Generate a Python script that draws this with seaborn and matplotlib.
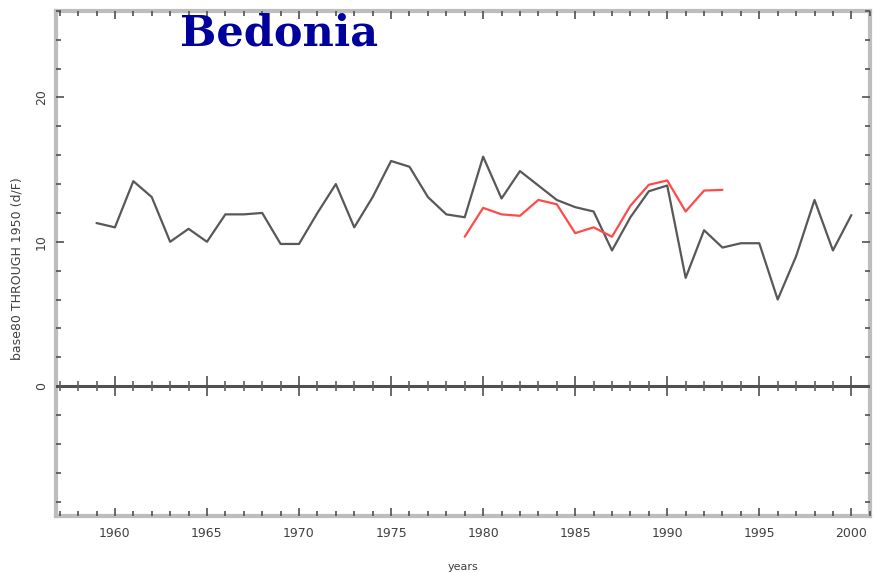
import matplotlib
matplotlib.use("Agg")
import matplotlib.pyplot as plt
import seaborn as sns
import pandas as pd
import numpy as np
from matplotlib.ticker import MultipleLocator

# station series
years_black = list(range(1959, 2001))
vals_black = [11.3, 11.0, 14.2, 13.1, 10.0, 10.9, 10.0, 11.9, 11.9, 12.0,
              9.85, 9.85, 12.0, 14.0, 11.0, 13.1, 15.6, 15.2, 13.1, 11.9,
              11.7, 15.9, 13.0, 14.9, 13.9, 12.9, 12.4, 12.1, 9.4, 11.7,
              13.5, 13.9, 7.5, 10.8, 9.6, 9.9, 9.9, 6.0, 9.0, 12.9,
              9.4, 11.85]
years_red = list(range(1979, 1994))
vals_red = [10.35, 12.35, 11.9, 11.8, 12.9, 12.6, 10.6, 11.0, 10.35, 12.5,
            13.95, 14.25, 12.1, 13.55, 13.6]

zero_years = list(range(1957, 2001))

sns.set_style("white")

fig = plt.figure(figsize=(8.75, 5.73), dpi=100)
ax = fig.add_axes([0.064, 0.0995, 0.93, 0.8815])

df_b = pd.DataFrame({"year": years_black, "val": vals_black})
df_r = pd.DataFrame({"year": years_red, "val": vals_red})
sns.lineplot(data=df_b, x="year", y="val", color="#585858", linewidth=1.6, ax=ax)
sns.lineplot(data=df_r, x="year", y="val", color="#ff4a4a", linewidth=1.6, ax=ax)

# zero line with its own tick marks
ax.axhline(0, color="#505050", linewidth=2.2, zorder=1)
zy = np.array(zero_years)
major = zy % 5 == 0
ax.scatter(zy[~major], np.zeros((~major).sum()), marker="|", s=60, color="#606060", linewidths=1.2, zorder=2)
ax.scatter(zy[major], np.zeros(major.sum()), marker="|", s=220, color="#505050", linewidths=1.2, zorder=2)

ax.set_xlim(1956.8, 2001.0)
ax.set_ylim(-9, 26)

ax.xaxis.set_major_locator(MultipleLocator(5))
ax.xaxis.set_minor_locator(MultipleLocator(1))
ax.yaxis.set_major_locator(MultipleLocator(10))
ax.yaxis.set_minor_locator(MultipleLocator(2))
ax.set_xticks([1960, 1965, 1970, 1975, 1980, 1985, 1990, 1995, 2000])
ax.set_xticklabels(["1960", "1965", "1970", "1975", "1980", "1985", "1990", "1995", "2000"])
ax.set_yticks([0, 10, 20])
ax.set_yticklabels(["0", "10", "20"], rotation=90, va="center")

ax.tick_params(axis="both", which="both", direction="in",
               top=True, right=True, bottom=True, left=True,
               color="#505050", labelcolor="#404040", labelsize=9)
ax.tick_params(axis="both", which="major", length=6, width=1.2)
ax.tick_params(axis="both", which="minor", length=3.5, width=1.2)
ax.tick_params(axis="x", which="major", pad=8)
ax.tick_params(axis="y", which="major", pad=6)

for sp in ax.spines.values():
    sp.set_color("#bdbdbd")
    sp.set_linewidth(3)
    sp.set_zorder(0.5)

ax.set_xlabel("years", fontsize=8, color="#404040", labelpad=16)
ax.set_ylabel("base80 THROUGH 1950 (d/F)", fontsize=9, color="#404040")
ax.yaxis.set_label_coords(-0.04, 0.49)

fig.text(180 / 875, 1 - 13 / 573, "Bedonia", fontsize=31, fontweight="bold",
         family="DejaVu Serif", color="#00009c", ha="left", va="top")

fig.savefig("out.png", dpi=100)
